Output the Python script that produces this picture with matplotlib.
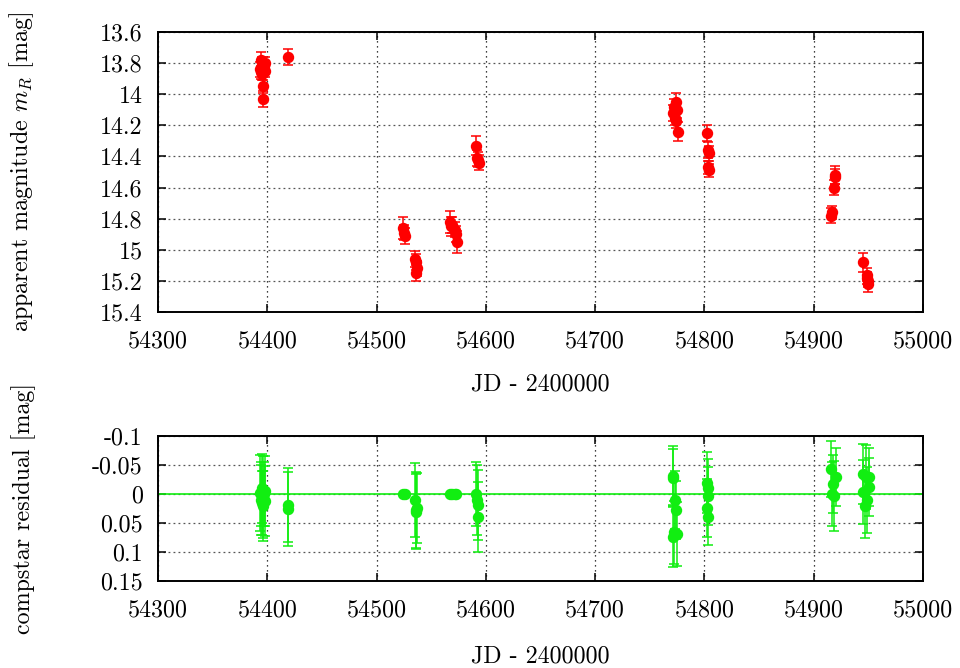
# Light curve of the target with comparison-star residuals (two panels).
import matplotlib
matplotlib.use('Agg')
from matplotlib import pyplot as plt
from matplotlib.ticker import FixedLocator, FixedFormatter

# Apparent magnitude m_R: JD - 2400000, magnitude, error
jd_mag = [54393.5, 54394, 54394.5, 54395, 54395.5, 54396, 54396.5, 54397, 54397.5, 54398,
          54419,
          54524.5, 54525.5, 54526,
          54535.5, 54536.5, 54537, 54536,
          54567, 54568, 54569, 54572, 54573, 54574,
          54591, 54592, 54593, 54594,
          54771, 54772, 54773, 54774, 54775, 54775.5, 54773.5,
          54802, 54803, 54804, 54803.5, 54804,
          54916, 54917, 54918.5, 54919, 54919.5,
          54945.5, 54948.5, 54949, 54950, 54949.5]
mag = [13.84, 13.78, 13.86, 13.80, 13.87, 14.03, 13.95, 13.82, 13.85, 13.80,
       13.76,
       14.86, 14.89, 14.91,
       15.06, 15.08, 15.12, 15.15,
       14.82, 14.85, 14.84, 14.87, 14.90, 14.95,
       14.33, 14.41, 14.42, 14.44,
       14.12, 14.08, 14.15, 14.05, 14.10, 14.24, 14.17,
       14.25, 14.36, 14.38, 14.47, 14.49,
       14.78, 14.76, 14.60, 14.53, 14.52,
       15.08, 15.16, 15.18, 15.20, 15.22]
mag_err = [0.05, 0.05, 0.04, 0.04, 0.04, 0.05, 0.04, 0.04, 0.04, 0.04,
           0.05,
           0.07, 0.05, 0.05,
           0.05, 0.05, 0.05, 0.05,
           0.07, 0.06, 0.05, 0.05, 0.05, 0.07,
           0.06, 0.05, 0.05, 0.05,
           0.05, 0.05, 0.05, 0.06, 0.05, 0.06, 0.05,
           0.05, 0.05, 0.05, 0.04, 0.04,
           0.05, 0.04, 0.05, 0.05, 0.06,
           0.06, 0.04, 0.04, 0.04, 0.05]

# Comparison-star residuals: JD - 2400000, residual, error
jd_res = [54393.5, 54394, 54394.5, 54395, 54395.5, 54396, 54396.5, 54397, 54397.5, 54398,
          54419, 54419,
          54524.5, 54526,
          54535.5, 54536.5, 54537, 54536,
          54567, 54569, 54572, 54573,
          54591, 54592, 54593, 54592.5,
          54771, 54771.5, 54773, 54774, 54772, 54771, 54775,
          54802.5, 54803, 54803.5, 54802, 54803,
          54915.5, 54918, 54918.5, 54920, 54917,
          54945, 54945.5, 54948.5, 54948, 54950.5, 54951, 54947]
res = [-0.002, 0.0, 0.01, 0.015, -0.01, 0.005, 0.02, 0.0, -0.005, 0.012,
       0.018, 0.025,
       0.0, 0.0,
       0.01, 0.027, 0.024, 0.03,
       0.0, 0.0, 0.0, 0.0,
       0.0, 0.01, 0.019, 0.039,
       -0.032, -0.028, 0.01, 0.027, 0.066, 0.073, 0.068,
       -0.02, -0.01, 0.003, 0.024, 0.039,
       -0.044, -0.018, 0.003, -0.03, 0.0,
       -0.035, -0.004, 0.01, -0.03, -0.012, -0.03, 0.02]
res_err = [0.065, 0.055, 0.06, 0.055, 0.06, 0.07, 0.06, 0.055, 0.06, 0.06,
           0.064, 0.064,
           0.0, 0.0,
           0.063, 0.065, 0.06, 0.065,
           0.0, 0.0, 0.0, 0.0,
           0.055, 0.06, 0.06, 0.06,
           0.051, 0.05, 0.05, 0.05, 0.055, 0.052, 0.055,
           0.052, 0.05, 0.05, 0.05, 0.048,
           0.048, 0.05, 0.06, 0.05, 0.055,
           0.052, 0.055, 0.057, 0.055, 0.05, 0.05, 0.055]

mag_ticks = [13.6, 13.8, 14.0, 14.2, 14.4, 14.6, 14.8, 15.0, 15.2, 15.4]
mag_labels = ['13.6', '13.8', '14', '14.2', '14.4', '14.6', '14.8', '15', '15.2', '15.4']
res_ticks = [-0.1, -0.05, 0.0, 0.05, 0.1, 0.15]
res_labels = ['-0.1', '-0.05', '0', '0.05', '0.1', '0.15']
jd_ticks = [54300, 54400, 54500, 54600, 54700, 54800, 54900, 55000]
jd_labels = [str(t) for t in jd_ticks]

plt.rcParams['font.family'] = 'cmr10'
plt.rcParams['mathtext.fontset'] = 'cm'
plt.rcParams['axes.unicode_minus'] = False

RED = '#ff0000'
GREEN = '#11ee11'
FS = 17.3

fig = plt.figure(figsize=(9.6, 6.68), dpi=100)
ax1 = fig.add_axes([0.1646, 0.533, 0.7969, 0.419])
ax2 = fig.add_axes([0.1646, 0.130, 0.7969, 0.217])

ax1.errorbar(jd_mag, mag, yerr=mag_err, fmt='o', color=RED, ms=7.2,
             elinewidth=1.1, capsize=3.6, capthick=1.1, zorder=3)
ax2.axhline(0, color=GREEN, lw=1.2, zorder=2)
ax2.errorbar(jd_res, res, yerr=res_err, fmt='o', color=GREEN, ms=7.2,
             elinewidth=1.1, capsize=3.6, capthick=1.1, zorder=3)

# Axis formatting shared by both panels
for ax, yt, yl, ylim, ylabel, xlabpos in [
        (ax1, mag_ticks, mag_labels, (15.4, 13.6), r'apparent magnitude $m_R$ [mag]', -0.22),
        (ax2, res_ticks, res_labels, (0.15, -0.1), 'compstar residual [mag]', -0.44)]:
    ax.set_xlim(54300, 55000)
    ax.set_ylim(*ylim)
    ax.xaxis.set_major_locator(FixedLocator(jd_ticks))
    ax.xaxis.set_major_formatter(FixedFormatter(jd_labels))
    ax.yaxis.set_major_locator(FixedLocator(yt))
    ax.yaxis.set_major_formatter(FixedFormatter(yl))
    ax.tick_params(direction='in', length=5.8, width=1.1, top=True, right=True,
                   labelsize=FS)
    ax.tick_params(axis='y', pad=11)
    ax.tick_params(axis='x', pad=13)
    ax.grid(True, axis='x', color='black', lw=0.9, linestyle=(0, (1, 3)))
    ax.grid(True, axis='y', color='#555555', lw=0.9, linestyle=(0, (1.5, 2.5)))
    for s in ax.spines.values():
        s.set_linewidth(1.4)
    ax.set_ylabel(ylabel, fontsize=FS)
    ax.yaxis.set_label_coords(-0.16, 0.5)
    ax.set_xlabel('JD - 2400000', fontsize=FS)
    ax.xaxis.set_label_coords(0.5, xlabpos)

fig.savefig('out.png', dpi=100)
